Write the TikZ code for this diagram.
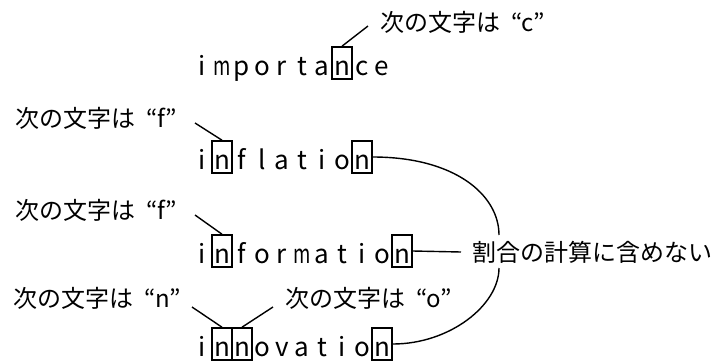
\documentclass[tikz,border=0pt]{standalone}
\usepackage{fontspec}
\usepackage{graphicx}
\setmainfont{Noto Sans CJK JP}
\usetikzlibrary{calc}

% full-width style quotation marks
\newcommand{\jq}[1]{\hspace{11pt}“#1”}
% narrow m for the fixed letter pitch
\newcommand{\nm}{\scalebox{0.72}[1]{m}}

\begin{document}
\begin{tikzpicture}[x=1pt,y=-1pt,
  letter/.style={font=\fontsize{26}{26}\selectfont, anchor=base, inner sep=0pt},
  hl/.style={draw, line width=1.6pt, minimum width=20pt, minimum height=32pt, inner sep=0pt},
  note/.style={font=\fontsize{24}{24}\selectfont, anchor=west, inner sep=0pt},
  lead/.style={line width=1.4pt}]
\useasboundingbox (0,0) rectangle (713,360);

% words, one letter per cell
\foreach \ch [count=\k from 0] in {i,\nm,p,o,r,t,a,n,c,e}
  \node[letter] (wa\k) at ({202+20*\k},75) {\ch};
\foreach \ch [count=\k from 0] in {i,n,f,l,a,t,i,o,n}
  \node[letter] (wb\k) at ({202+20*\k},169) {\ch};
\foreach \ch [count=\k from 0] in {i,n,f,o,r,\nm,a,t,i,o,n}
  \node[letter] (wc\k) at ({202+20*\k},263) {\ch};
\foreach \ch [count=\k from 0] in {i,n,n,o,v,a,t,i,o,n}
  \node[letter] (wd\k) at ({202+20*\k},356) {\ch};

% highlighted letters
\node[hl] (ha) at (342,63) {};
\node[hl] (hb1) at (222,157) {};
\node[hl] (hb2) at (362,157) {};
\node[hl] (hc1) at (222,251) {};
\node[hl] (hc2) at (402,251) {};
\node[hl] (hd1) at (222,344) {};
\node[hl] (hd2) at (242,344) {};
\node[hl] (hd3) at (382,344) {};

% notes
\node[note] (ta) at (380,22) {次の文字は\jq{c}};
\node[note] (tb) at (15,118) {次の文字は\jq{f}};
\node[note] (tc) at (15,210) {次の文字は\jq{f}};
\node[note] (td1) at (13,298) {次の文字は\jq{n}};
\node[note] (td2) at (285,298) {次の文字は\jq{o}};
\node[note] (te) at (472,252) {割合の計算に含めない};

% leaders
\draw[lead] ($(ta.west)+(-12,4)$) -- (ha.north);
\draw[lead] ($(tb.west)+(180,5)$) -- (hb1.north);
\draw[lead] ($(tc.west)+(180,5)$) -- (hc1.north);
\draw[lead] ($(td1.west)+(179,9)$) -- (hd1.north);
\draw[lead] ($(td2.west)+(-12,9)$) -- (hd2.north);

% bracket to the right-hand note
\coordinate (ct) at ($(te.west)+(27,-17)$);
\coordinate (cb) at ($(te.west)+(27,16)$);
\draw[lead] (hb2.east) .. controls (455,157) and (499,195) .. (ct);
\draw[lead] (cb) .. controls (499,305) and (450,344) .. (hd3.east);
\draw[lead] (hc2.east) -- ($(te.west)+(-11,0)$);
\end{tikzpicture}
\end{document}
